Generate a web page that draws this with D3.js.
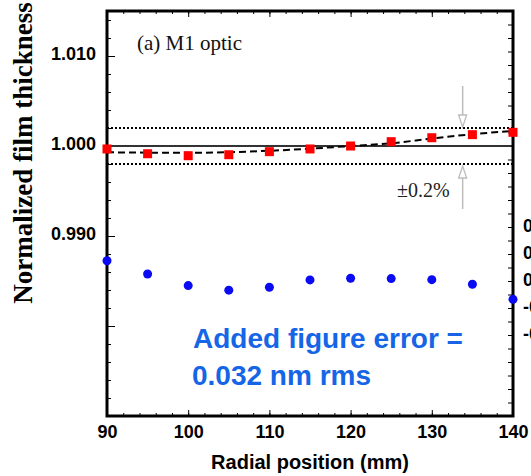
<!DOCTYPE html>
<html>
<head>
<meta charset="utf-8">
<script src="https://cdn.jsdelivr.net/npm/d3@7"></script>
<style>
  html, body { margin: 0; padding: 0; background: #fff; overflow: hidden; }
  svg { display: block; }
</style>
</head>
<body>
<svg id="chart" width="531" height="476"></svg>
<script>
// Radial positions across the M1 optic (mm)
const radius = [90, 95, 100, 105, 110, 115, 120, 125, 130, 135, 140];
// Measured normalized film thickness
const thickness = [0.99967, 0.99914, 0.99892, 0.99903, 0.99937, 0.99967, 1.00000, 1.00048, 1.00092, 1.00126, 1.00152];
// Smooth fit through the thickness profile
const thicknessFit = [0.99930, 0.99926, 0.99924, 0.99931, 0.99947, 0.99970, 1.00000, 1.00030, 1.00083, 1.00131, 1.00167];
// Added figure error (nm), right-hand scale
const figureError = [0.075, 0.026, -0.017, -0.034, -0.023, 0.004, 0.010, 0.009, 0.005, -0.012, -0.068];

const xTickLabels = [90, 100, 110, 120, 130, 140];
const yTickLabels = [0.990, 1.000, 1.010];
const errTickLabels = [0.2, 0.1, 0.0, -0.1, -0.2];
const nominal = 1.000;
const tolerance = [0.998, 1.002];

const W = 531, H = 476;
const margin = { top: 11, right: 18, bottom: 60, left: 107 };
const x0 = margin.left, x1 = W - margin.right;
const y0 = margin.top, y1 = H - margin.bottom;

const svg = d3.select("#chart");

const x = d3.scaleLinear().domain([90, 140]).range([x0, x1]);
const y = d3.scaleLinear().domain([0.970, 1.015]).range([y1, y0]);
const yErr = d3.scaleLinear().domain([-0.5, 1.0]).range([y1, y0]);

const sans = "'Liberation Sans', Arial, Helvetica, sans-serif";
const serif = "'Liberation Serif', 'Times New Roman', serif";

function styleAxis(g) {
  g.select(".domain").remove();
  g.selectAll(".tick line").attr("stroke", "#000").attr("stroke-width", 1);
  g.selectAll(".tick text")
    .attr("fill", "#000")
    .style("font-family", sans)
    .style("font-weight", "bold")
    .style("font-size", "18px");
}

// ---- bottom axis: minor + major ticks pointing inward, labels below
const xMinor = d3.range(90, 141, 2);
const xMajor = d3.range(90, 141, 10);
svg.append("g").attr("transform", `translate(0,${y1})`)
  .call(d3.axisBottom(x).tickValues(xMinor).tickSize(-3).tickFormat(""))
  .call(styleAxis);
svg.append("g").attr("transform", `translate(0,${y1})`)
  .call(d3.axisBottom(x).tickValues(xMajor).tickSize(-6).tickFormat(""))
  .call(styleAxis);
svg.append("g").attr("transform", `translate(0,${y1})`)
  .call(d3.axisBottom(x).tickValues(xTickLabels).tickSize(0).tickPadding(9).tickFormat(d3.format("d")))
  .call(styleAxis);

// ---- top axis ticks
svg.append("g").attr("transform", `translate(0,${y0})`)
  .call(d3.axisTop(x).tickValues(xMinor).tickSize(-3).tickFormat(""))
  .call(styleAxis);
svg.append("g").attr("transform", `translate(0,${y0})`)
  .call(d3.axisTop(x).tickValues(xMajor).tickSize(-6).tickFormat(""))
  .call(styleAxis);

// ---- left axis
const yMinor = d3.range(970, 1016, 2).map(v => v / 1000);
const yMajor = d3.range(970, 1011, 10).map(v => v / 1000);
svg.append("g").attr("transform", `translate(${x0},0)`)
  .call(d3.axisLeft(y).tickValues(yMinor).tickSize(-4).tickFormat(""))
  .call(styleAxis);
svg.append("g").attr("transform", `translate(${x0},0)`)
  .call(d3.axisLeft(y).tickValues(yMajor).tickSize(-8).tickFormat(""))
  .call(styleAxis);
svg.append("g").attr("transform", `translate(${x0},0)`)
  .call(d3.axisLeft(y).tickValues(yTickLabels).tickSize(0).tickPadding(11).tickFormat(d3.format(".3f")))
  .call(styleAxis)
  .call(g => g.selectAll(".tick text").attr("dy", "0.22em"));

// ---- right axis (figure error, nm)
const eMinor = d3.range(-50, 101, 5).map(v => v / 100);
svg.append("g").attr("transform", `translate(${x1},0)`)
  .call(d3.axisRight(yErr).tickValues(eMinor).tickSize(-5).tickFormat(""))
  .call(styleAxis);
svg.append("g").attr("transform", `translate(${x1},0)`)
  .call(d3.axisRight(yErr).tickValues(errTickLabels).tickSize(0).tickPadding(10).tickFormat(d => d.toFixed(1)))
  .call(styleAxis)
  .call(g => g.selectAll(".tick text").attr("dy", "0.25em"));

// ---- tolerance band (dotted) and nominal (solid)
svg.selectAll("line.tol").data(tolerance).join("line")
  .attr("class", "tol")
  .attr("x1", x0).attr("x2", x1)
  .attr("y1", d => y(d)).attr("y2", d => y(d))
  .attr("stroke", "#000").attr("stroke-width", 2)
  .attr("stroke-dasharray", "2,2");

svg.append("line")
  .attr("x1", x0).attr("x2", x1)
  .attr("y1", y(nominal)).attr("y2", y(nominal))
  .attr("stroke", "#333").attr("stroke-width", 2);

// ---- frame
svg.append("rect")
  .attr("x", x0).attr("y", y0)
  .attr("width", x1 - x0).attr("height", y1 - y0)
  .attr("fill", "none").attr("stroke", "#000").attr("stroke-width", 3);

// ---- fit curve
const fitLine = d3.line()
  .x((d, i) => x(radius[i]))
  .y(d => y(d))
  .curve(d3.curveMonotoneX);
svg.append("path")
  .datum(thicknessFit)
  .attr("d", fitLine)
  .attr("fill", "none")
  .attr("stroke", "#000")
  .attr("stroke-width", 2)
  .attr("stroke-dasharray", "7,4");

// ---- thickness markers
const sq = 9;
svg.selectAll("rect.pt").data(thickness).join("rect")
  .attr("class", "pt")
  .attr("x", (d, i) => x(radius[i]) - sq / 2)
  .attr("y", d => y(d) - sq / 2)
  .attr("width", sq).attr("height", sq)
  .attr("fill", "#ff0000");

// ---- figure error markers
svg.selectAll("circle.err").data(figureError).join("circle")
  .attr("class", "err")
  .attr("cx", (d, i) => x(radius[i]))
  .attr("cy", d => yErr(d))
  .attr("r", 4.5)
  .attr("fill", "#0a0af5");

// ---- ±0.2% arrows
const arrowX = x(133.8);
function arrow(yTail, yTip) {
  const dir = yTip > yTail ? 1 : -1;
  svg.append("line")
    .attr("x1", arrowX).attr("x2", arrowX)
    .attr("y1", yTail).attr("y2", yTip - dir * 12)
    .attr("stroke", "#bdbdbd").attr("stroke-width", 1.5);
  svg.append("path")
    .attr("d", `M${arrowX - 4},${yTip - dir * 12} L${arrowX},${yTip} L${arrowX + 4},${yTip - dir * 12} Z`)
    .attr("fill", "#fff")
    .attr("stroke", "#bdbdbd").attr("stroke-width", 1.3);
}
arrow(86, y(tolerance[1]) - 1);
arrow(209, y(tolerance[0]) + 2);

svg.append("text")
  .attr("x", 397).attr("y", 197)
  .style("font-family", serif).style("font-size", "20px")
  .attr("fill", "#222")
  .text("±0.2%");

// ---- panel label
svg.append("text")
  .attr("x", 137).attr("y", 50)
  .style("font-family", serif).style("font-size", "21px")
  .attr("fill", "#111")
  .text("(a) M1 optic");

// ---- figure-error note
const note = svg.append("text")
  .style("font-family", sans).style("font-weight", "bold").style("font-size", "28px")
  .attr("fill", "#1565e6");
note.append("tspan").attr("x", 193).attr("y", 348).text("Added figure error =");
note.append("tspan").attr("x", 192).attr("y", 385).text("0.032 nm rms");

// ---- axis titles
svg.append("text")
  .attr("x", (x0 + x1) / 2).attr("y", 469)
  .attr("text-anchor", "middle")
  .style("font-family", sans).style("font-weight", "bold").style("font-size", "20px")
  .attr("fill", "#000")
  .text("Radial position (mm)");

svg.append("text")
  .attr("transform", "translate(32,153) rotate(-90)")
  .attr("text-anchor", "middle")
  .style("font-family", serif).style("font-weight", "bold").style("font-size", "27px")
  .attr("fill", "#000")
  .text("Normalized film thickness");
</script>
</body>
</html>
